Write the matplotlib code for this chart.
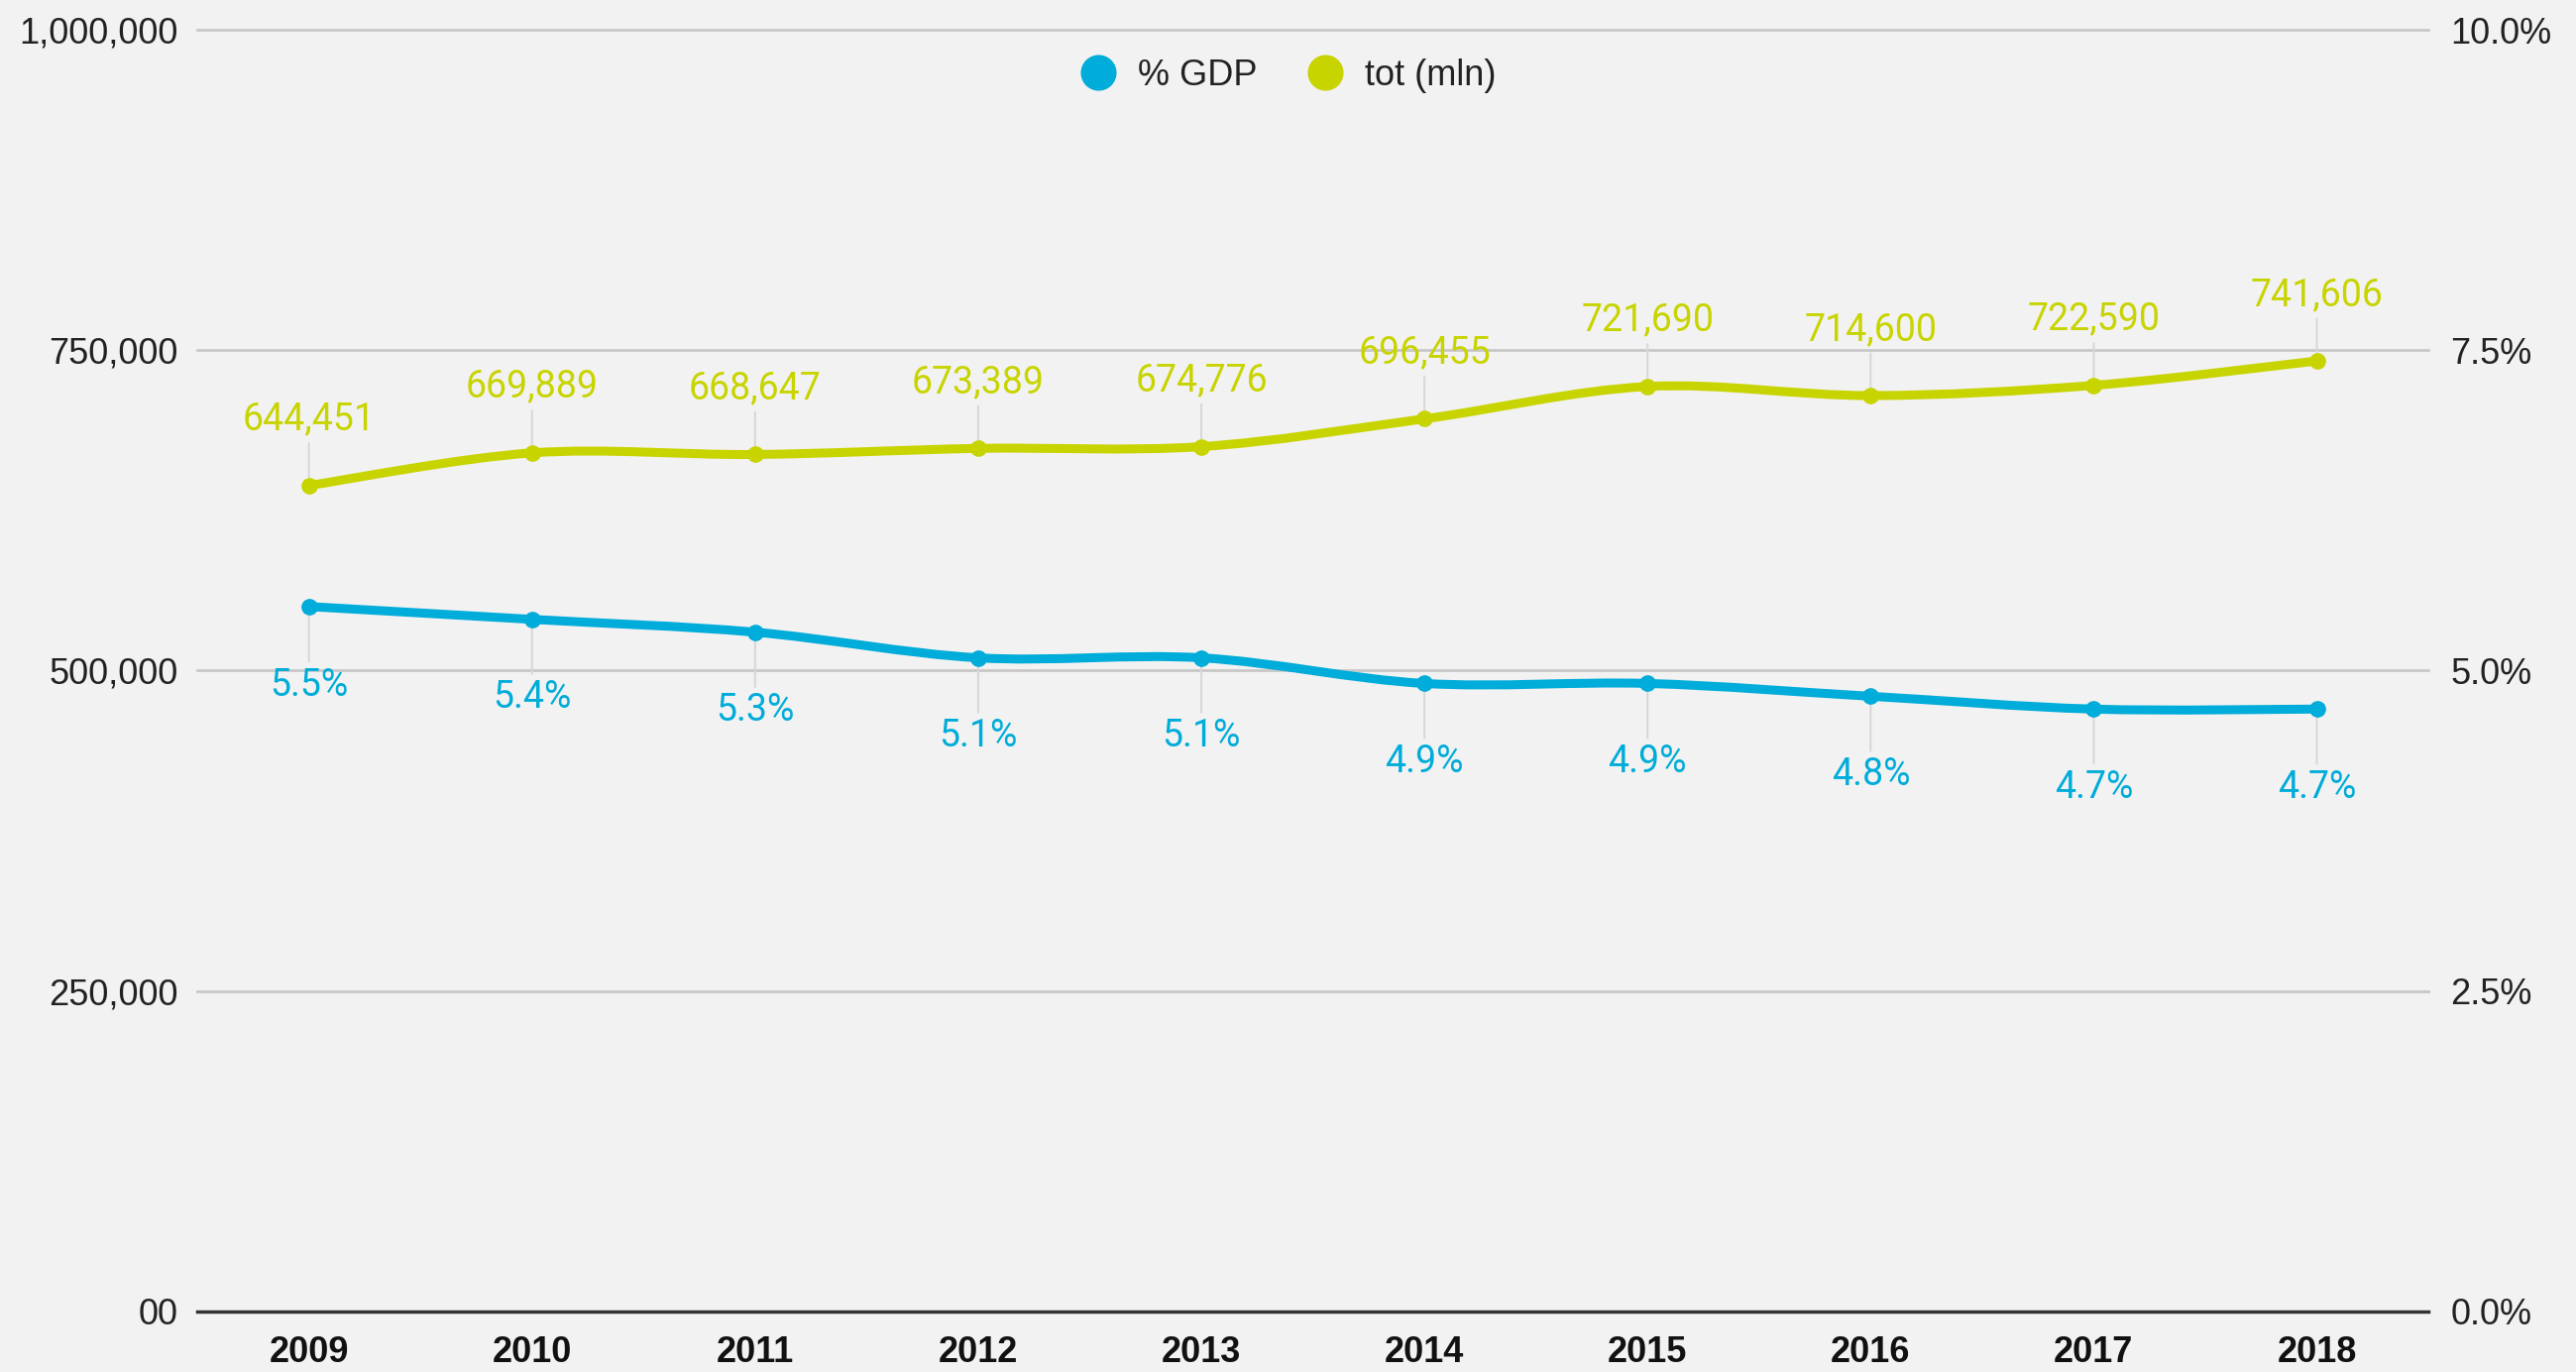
import numpy as np
import matplotlib
matplotlib.use('Agg')
import matplotlib.pyplot as plt
from matplotlib.path import Path
from matplotlib.patches import PathPatch

years = ['2009', '2010', '2011', '2012', '2013', '2014', '2015', '2016', '2017', '2018']
tot_mln = [644451, 669889, 668647, 673389, 674776, 696455, 721690, 714600, 722590, 741606]
pct_gdp = [5.5, 5.4, 5.3, 5.1, 5.1, 4.9, 4.9, 4.8, 4.7, 4.7]

left_ticks = [0, 250000, 500000, 750000, 1000000]
left_labels = ['00', '250,000', '500,000', '750,000', '1,000,000']
right_ticks = [0, 2.5, 5.0, 7.5, 10.0]
right_labels = ['0.0%', '2.5%', '5.0%', '7.5%', '10.0%']

BLUE = '#00acd9'
YELLOW = '#c8d400'
BG = '#f2f2f2'


def smooth_path(xs, ys):
    # cubic bezier through the points (catmull-rom style tangents)
    pts = np.column_stack([xs, ys]).astype(float)
    n = len(pts)
    verts = [pts[0]]
    codes = [Path.MOVETO]
    for i in range(n - 1):
        p0 = pts[max(i - 1, 0)]
        p1 = pts[i]
        p2 = pts[i + 1]
        p3 = pts[min(i + 2, n - 1)]
        c1 = p1 + (p2 - p0) / 6.0
        c2 = p2 - (p3 - p1) / 6.0
        verts += [c1, c2, p2]
        codes += [Path.CURVE4] * 3
    return Path(verts, codes)


fig = plt.figure(figsize=(25.99, 13.84), dpi=100, facecolor=BG)
ax = fig.add_axes([0.0766, 0.0441, 0.8661, 0.9342])
ax.set_facecolor(BG)
ax2 = ax.twinx()

x = np.arange(len(years))

ax.set_xlim(-0.5, len(years) - 0.5)
ax.set_ylim(0, 1000000)
ax2.set_ylim(0, 10)

for s in ['top', 'left', 'right', 'bottom']:
    ax.spines[s].set_visible(False)
    ax2.spines[s].set_visible(False)

for t in left_ticks[1:]:
    ax.axhline(t, color='#c8c8c8', lw=2, zorder=0, clip_on=False)
ax.axhline(0, color='#333333', lw=2.5, zorder=1, clip_on=False)

ax.set_yticks(left_ticks)
ax.set_yticklabels(left_labels, fontfamily='Liberation Sans', fontsize=26, color='#222222')
ax2.set_yticks(right_ticks)
ax2.set_yticklabels(right_labels, fontfamily='Liberation Sans', fontsize=26, color='#222222')
ax.tick_params(axis='y', length=0, pad=14)
ax2.tick_params(axis='y', length=0, pad=16)

ax.set_xticks(x)
ax.set_xticklabels(years, fontfamily='Liberation Sans', fontsize=26, fontweight='bold', color='#111111')
ax.tick_params(axis='x', length=0, pad=17)

# lines
ax.add_patch(PathPatch(smooth_path(x, tot_mln), fill=False, edgecolor=YELLOW, lw=6.5, capstyle='round', zorder=3))
ax.plot(x, tot_mln, 'o', color=YELLOW, markersize=11, zorder=4)
ax2.add_patch(PathPatch(smooth_path(x, pct_gdp), fill=False, edgecolor=BLUE, lw=6.5, capstyle='round', zorder=3))
ax2.plot(x, pct_gdp, 'o', color=BLUE, markersize=11, zorder=4)

# data labels with leader lines
for xi, v in zip(x, tot_mln):
    ax.annotate(f'{v:,}', xy=(xi, v), xytext=(0, 48), textcoords='offset points',
                ha='center', va='center', fontsize=27, color=YELLOW, fontfamily='Roboto',
                arrowprops=dict(arrowstyle='-', color='#d8d8d8', lw=1.5, shrinkA=2, shrinkB=6))
for xi, v in zip(x, pct_gdp):
    ax2.annotate(f'{v:.1f}%', xy=(xi, v), xytext=(0, -57), textcoords='offset points',
                 ha='center', va='center', fontsize=27, color=BLUE, fontfamily='Roboto',
                 arrowprops=dict(arrowstyle='-', color='#d8d8d8', lw=1.5, shrinkA=2, shrinkB=6))

# legend
h1, = ax.plot([], [], 'o', color=BLUE, markersize=25, label='% GDP')
h2, = ax.plot([], [], 'o', color=YELLOW, markersize=25, label='tot (mln)')
fig.legend(handles=[h1, h2], loc='center', bbox_to_anchor=(0.5, 0.945), ncol=2, frameon=False,
           prop={'family': 'Liberation Sans', 'size': 26}, handletextpad=0.6, columnspacing=1.4,
           handlelength=1.0, labelcolor='#222222')

fig.savefig('out.png', dpi=100, facecolor=BG)
